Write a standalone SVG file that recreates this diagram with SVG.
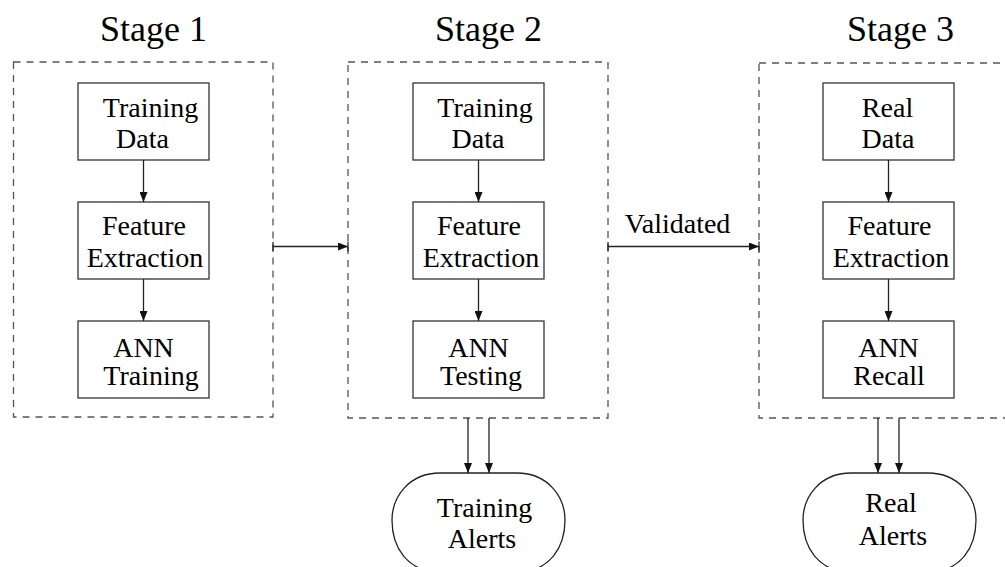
<svg xmlns="http://www.w3.org/2000/svg" width="1005" height="567" viewBox="0 0 1005 567">
  <style>
    .stage { fill: none; stroke: #555; stroke-width: 1.3; stroke-dasharray: 7 6; }
    .box { fill: #fff; stroke: #333; stroke-width: 1.3; }
    .term { fill: #fff; stroke: #222; stroke-width: 1.3; }
    .label { font-family: "Liberation Serif", "Times New Roman", serif; font-size: 28px; fill: #000; text-anchor: middle; }
    .title { font-family: "Liberation Serif", "Times New Roman", serif; font-size: 36px; fill: #000; }
    .edge { fill: none; stroke: #222; stroke-width: 1.3; }
  </style>
  <defs>
    <marker id="arrow" viewBox="0 0 10 8" refX="10" refY="4" markerWidth="10" markerHeight="8" markerUnits="userSpaceOnUse" orient="auto">
      <path d="M0,0 L10,4 L0,8 Z" fill="#111"/>
    </marker>
    <marker id="bar" viewBox="0 0 2 10" refX="1" refY="5" markerWidth="2" markerHeight="10" markerUnits="userSpaceOnUse" orient="auto">
      <line x1="1" y1="0" x2="1" y2="10" stroke="#222" stroke-width="1.3"/>
    </marker>
  </defs>

  <rect width="1005" height="567" fill="#fff"/>

  <!-- stage frames and titles -->
  <g id="stage1">
    <rect class="stage" x="13.5" y="62" width="259.5" height="355"/>
    <text class="title" x="100" y="41">Stage 1</text>
  </g>
  <g id="stage2">
    <rect class="stage" x="348" y="62" width="260" height="356"/>
    <text class="title" x="435" y="41">Stage 2</text>
  </g>
  <g id="stage3">
    <rect class="stage" x="759" y="63" width="260" height="355"/>
    <text class="title" x="847" y="41">Stage 3</text>
  </g>

  <!-- stage 1 -->
  <g id="s1-data">
    <rect class="box" x="78" y="83" width="131" height="77"/>
    <text class="label" x="150.5" y="117">Training</text>
    <text class="label" x="142.5" y="148">Data</text>
  </g>
  <g id="s1-feature">
    <rect class="box" x="78" y="202" width="131" height="77"/>
    <text class="label" x="144" y="235">Feature</text>
    <text class="label" x="145" y="267">Extraction</text>
  </g>
  <g id="s1-ann">
    <rect class="box" x="78" y="321" width="131" height="77"/>
    <text class="label" x="143.5" y="357">ANN</text>
    <text class="label" x="151" y="385">Training</text>
  </g>

  <!-- stage 2 -->
  <g id="s2-data">
    <rect class="box" x="413" y="83" width="131" height="77"/>
    <text class="label" x="485" y="117">Training</text>
    <text class="label" x="478" y="148">Data</text>
  </g>
  <g id="s2-feature">
    <rect class="box" x="413" y="202" width="131" height="77"/>
    <text class="label" x="479" y="235">Feature</text>
    <text class="label" x="481" y="267">Extraction</text>
  </g>
  <g id="s2-ann">
    <rect class="box" x="413" y="321" width="131" height="77"/>
    <text class="label" x="478.5" y="357">ANN</text>
    <text class="label" x="481" y="385">Testing</text>
  </g>

  <!-- stage 3 -->
  <g id="s3-data">
    <rect class="box" x="823" y="83" width="131" height="77"/>
    <text class="label" x="887.5" y="117">Real</text>
    <text class="label" x="888" y="148">Data</text>
  </g>
  <g id="s3-feature">
    <rect class="box" x="823" y="202" width="131" height="77"/>
    <text class="label" x="889.5" y="235">Feature</text>
    <text class="label" x="891" y="267">Extraction</text>
  </g>
  <g id="s3-ann">
    <rect class="box" x="823" y="321" width="131" height="77"/>
    <text class="label" x="888.5" y="357">ANN</text>
    <text class="label" x="889" y="385">Recall</text>
  </g>

  <!-- alert terminals -->
  <g id="training-alerts">
    <path class="term" d="M440,473 H517 C548,473 565,497 565,520 C565,547 550,572 517,572 H440 C407,572 392,547 392,520 C392,497 409,473 440,473 Z"/>
    <text class="label" x="484.5" y="517">Training</text>
    <text class="label" x="482" y="548">Alerts</text>
  </g>
  <g id="real-alerts">
    <path class="term" d="M851,473 H928 C959,473 976,497 976,520 C976,547 961,572 928,572 H851 C818,572 803,547 803,520 C803,497 820,473 851,473 Z"/>
    <text class="label" x="891" y="512">Real</text>
    <text class="label" x="893" y="545">Alerts</text>
  </g>

  <!-- connectors -->
  <g id="connectors">
    <line class="edge" x1="143.5" y1="160" x2="143.5" y2="202" marker-end="url(#arrow)"/>
    <line class="edge" x1="143.5" y1="279" x2="143.5" y2="321" marker-end="url(#arrow)"/>
    <line class="edge" x1="478.5" y1="160" x2="478.5" y2="202" marker-end="url(#arrow)"/>
    <line class="edge" x1="478.5" y1="279" x2="478.5" y2="321" marker-end="url(#arrow)"/>
    <line class="edge" x1="888.5" y1="160" x2="888.5" y2="202" marker-end="url(#arrow)"/>
    <line class="edge" x1="888.5" y1="279" x2="888.5" y2="321" marker-end="url(#arrow)"/>

    <line class="edge" x1="273" y1="246.5" x2="348" y2="246.5" marker-start="url(#bar)" marker-end="url(#arrow)"/>
    <line class="edge" x1="608" y1="246.5" x2="759" y2="246.5" marker-start="url(#bar)" marker-end="url(#arrow)"/>
    <line x1="348" y1="241.5" x2="348" y2="251.5" stroke="#222" stroke-width="1.3"/>
    <line x1="759" y1="241.5" x2="759" y2="251.5" stroke="#222" stroke-width="1.3"/>
    <text class="label" x="677.5" y="233">Validated</text>

    <line class="edge" x1="468" y1="418" x2="468" y2="473" marker-end="url(#arrow)"/>
    <line class="edge" x1="489" y1="418" x2="489" y2="473" marker-end="url(#arrow)"/>
    <line class="edge" x1="878" y1="418" x2="878" y2="473" marker-end="url(#arrow)"/>
    <line class="edge" x1="899" y1="418" x2="899" y2="473" marker-end="url(#arrow)"/>
  </g>
</svg>
